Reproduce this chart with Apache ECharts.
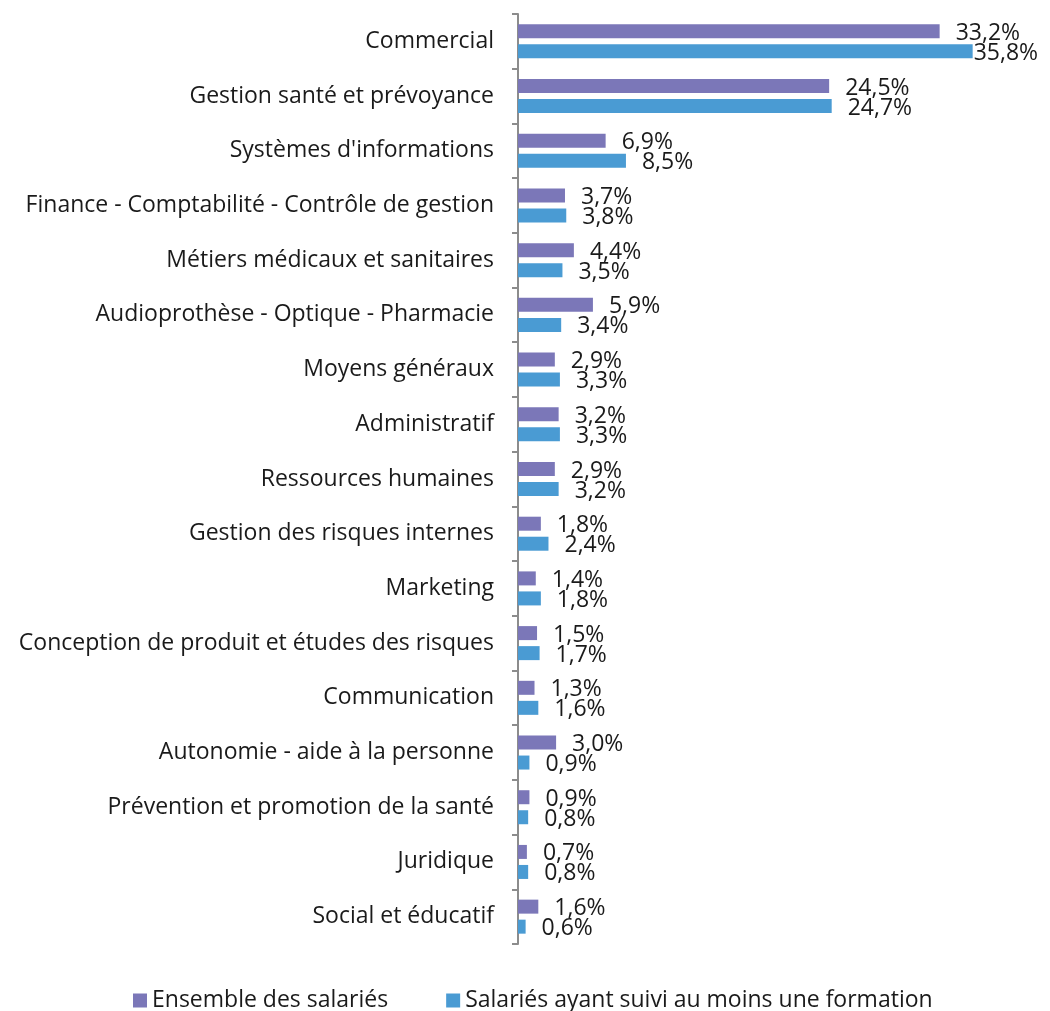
<!DOCTYPE html>
<html><head><meta charset="utf-8">
<script src="https://cdn.jsdelivr.net/npm/echarts@6/dist/echarts.min.js"></script>
<style>html,body{margin:0;padding:0;background:#fff}#c{width:1050px;height:1011px}</style>
</head><body><div id="c"></div>
<script>
var categories = ["Commercial","Gestion santé et prévoyance","Systèmes d'informations","Finance - Comptabilité - Contrôle de gestion","Métiers médicaux et sanitaires","Audioprothèse - Optique - Pharmacie","Moyens généraux","Administratif","Ressources humaines","Gestion des risques internes","Marketing","Conception de produit et études des risques","Communication","Autonomie - aide à la personne","Prévention et promotion de la santé","Juridique","Social et éducatif"];
var seriesNames = ["Ensemble des salariés","Salariés ayant suivi au moins une formation"];
var ensemble = [33.2,24.5,6.9,3.7,4.4,5.9,2.9,3.2,2.9,1.8,1.4,1.5,1.3,3.0,0.9,0.7,1.6];
var formation = [35.8,24.7,8.5,3.8,3.5,3.4,3.3,3.3,3.2,2.4,1.8,1.7,1.6,0.9,0.8,0.8,0.6];
var FONT = "Open Sans";
var FS = 23;
function fmt(p){ return p.value.toFixed(1).replace('.', ',') + '%'; }
function items(arr){
  return arr.map(function(v){
    var o = {value:v};
    if (v > 35) o.label = {distance: 1};
    return o;
  });
}
var chart = echarts.init(document.getElementById('c'));
chart.setOption({
  animation:false,
  textStyle:{fontFamily:FONT},
  grid:{left:518, right:24, top:14, bottom:67},
  xAxis:{type:'value', min:0, max:40, show:false},
  yAxis:{type:'category', data:categories, inverse:true,
    axisLine:{show:true, lineStyle:{color:'#8c8c8c', width:2}},
    axisTick:{show:true, length:6, lineStyle:{color:'#8c8c8c', width:2}},
    axisLabel:{color:'#1a1a1a', fontSize:FS, margin:24, fontFamily:FONT}
  },
  legend:{top:984, left:128, itemWidth:14, itemHeight:14, itemGap:58,
    icon:'rect', textStyle:{fontSize:FS, color:'#1a1a1a', fontFamily:FONT},
    data:seriesNames},
  series:[
    {name:seriesNames[0], type:'bar', data:items(ensemble), barWidth:14, barGap:'43%',
     itemStyle:{color:'#7B77B8'},
     label:{show:true, position:'right', distance:16, formatter:fmt, fontSize:FS, color:'#1a1a1a', fontFamily:FONT, offset:[0,2]}},
    {name:seriesNames[1], type:'bar', data:items(formation), barWidth:14,
     itemStyle:{color:'#4A9BD3'},
     label:{show:true, position:'right', distance:16, formatter:fmt, fontSize:FS, color:'#1a1a1a', fontFamily:FONT, offset:[0,2]}}
  ]
});
</script></body></html>
